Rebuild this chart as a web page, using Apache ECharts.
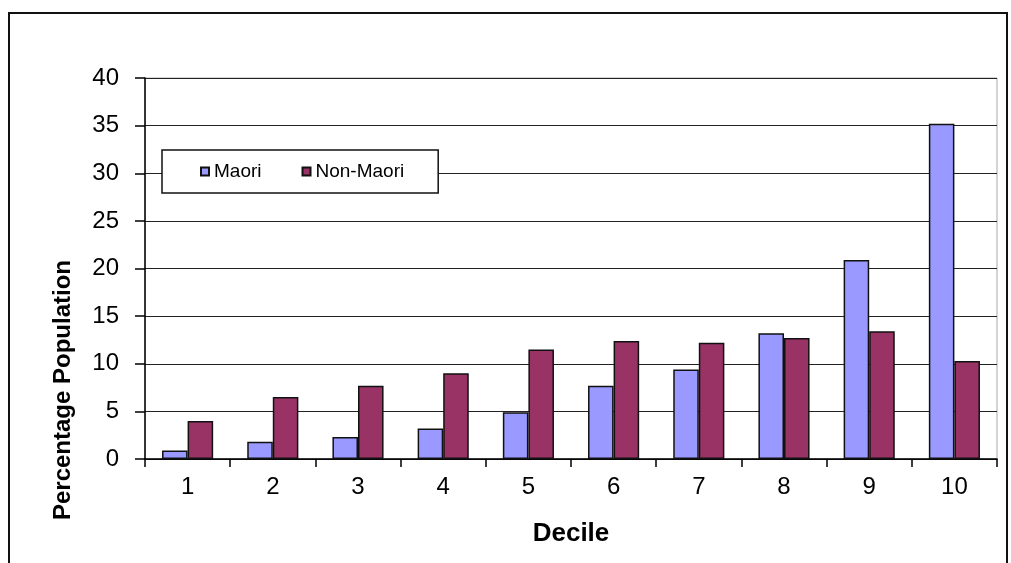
<!DOCTYPE html>
<html>
<head>
<meta charset="utf-8">
<script src="https://cdn.jsdelivr.net/npm/echarts@6/dist/echarts.min.js"></script>
<style>
  html, body { margin: 0; padding: 0; background: #fff; }
  #chart { width: 1011px; height: 563px; }
</style>
</head>
<body>
<div id="chart"></div>
<script>
// deciles and percentage of population per decile
const deciles = ['1', '2', '3', '4', '5', '6', '7', '8', '9', '10'];
const maori = [0.9, 1.8, 2.3, 3.2, 4.9, 7.7, 9.4, 13.2, 20.9, 35.2];
const nonMaori = [4.0, 6.5, 7.7, 9.0, 11.5, 12.4, 12.2, 12.7, 13.4, 10.3];
const yTicks = [0, 5, 10, 15, 20, 25, 30, 35, 40];

const chart = echarts.init(document.getElementById('chart'));

const font = 'Liberation Sans, Arial, sans-serif';

chart.setOption({
  animation: false,
  textStyle: { fontFamily: font, color: '#000' },
  graphic: [
    {
      // outer chart border
      type: 'rect',
      shape: { x: 9, y: 13, width: 998, height: 600 },
      style: { fill: 'none', stroke: '#111', lineWidth: 2 },
      z: -1
    },
    {
      // y axis title, sits lower than the plot centre like in the original
      type: 'text',
      x: 63,
      y: 390,
      rotation: Math.PI / 2,
      style: {
        text: 'Percentage Population',
        font: 'bold 24px ' + font,
        fill: '#000',
        align: 'center',
        verticalAlign: 'middle'
      }
    }
  ],
  legend: {
    left: 162,
    top: 150,
    orient: 'horizontal',
    itemWidth: 8,
    itemHeight: 8,
    itemGap: 40,
    padding: [12, 34, 12, 38],
    backgroundColor: '#fff',
    borderColor: '#111',
    borderWidth: 1.5,
    borderRadius: 0,
    icon: 'rect',
    textStyle: { fontSize: 19, color: '#000', fontFamily: font },
    data: ['Maori', 'Non-Maori']
  },
  grid: {
    left: 145,
    right: 14,
    top: 78,
    bottom: 104,
    show: true,
    borderColor: '#aaa',
    borderWidth: 1
  },
  xAxis: {
    type: 'category',
    data: deciles,
    name: 'Decile',
    nameLocation: 'middle',
    nameGap: 62,
    nameTextStyle: { fontSize: 26, fontWeight: 'bold', color: '#000' },
    axisLine: { lineStyle: { color: '#000', width: 1.5 } },
    axisTick: { show: true, length: 8, lineStyle: { color: '#000', width: 1.5 } },
    axisLabel: { fontSize: 24, color: '#000', margin: 16 },
    splitLine: { show: false }
  },
  yAxis: {
    type: 'value',
    min: 0,
    max: 40,
    interval: 5,
    axisLine: { show: true, lineStyle: { color: '#000', width: 1.5 } },
    axisTick: { show: true, length: 10, lineStyle: { color: '#000', width: 1.5 } },
    axisLabel: {
      fontSize: 24, color: '#000', margin: 26,
      formatter: v => yTicks.includes(v) ? String(v) : ''
    },
    splitLine: { show: true, lineStyle: { color: '#222', width: 1.2 } }
  },
  series: [
    {
      name: 'Maori',
      type: 'bar',
      data: maori,
      barGap: '0%',
      barCategoryGap: '40%',
      itemStyle: { color: '#9999ff', borderColor: '#111', borderWidth: 1.5 }
    },
    {
      name: 'Non-Maori',
      type: 'bar',
      data: nonMaori,
      itemStyle: { color: '#993366', borderColor: '#111', borderWidth: 1.5 }
    }
  ]
});
</script>
</body>
</html>
